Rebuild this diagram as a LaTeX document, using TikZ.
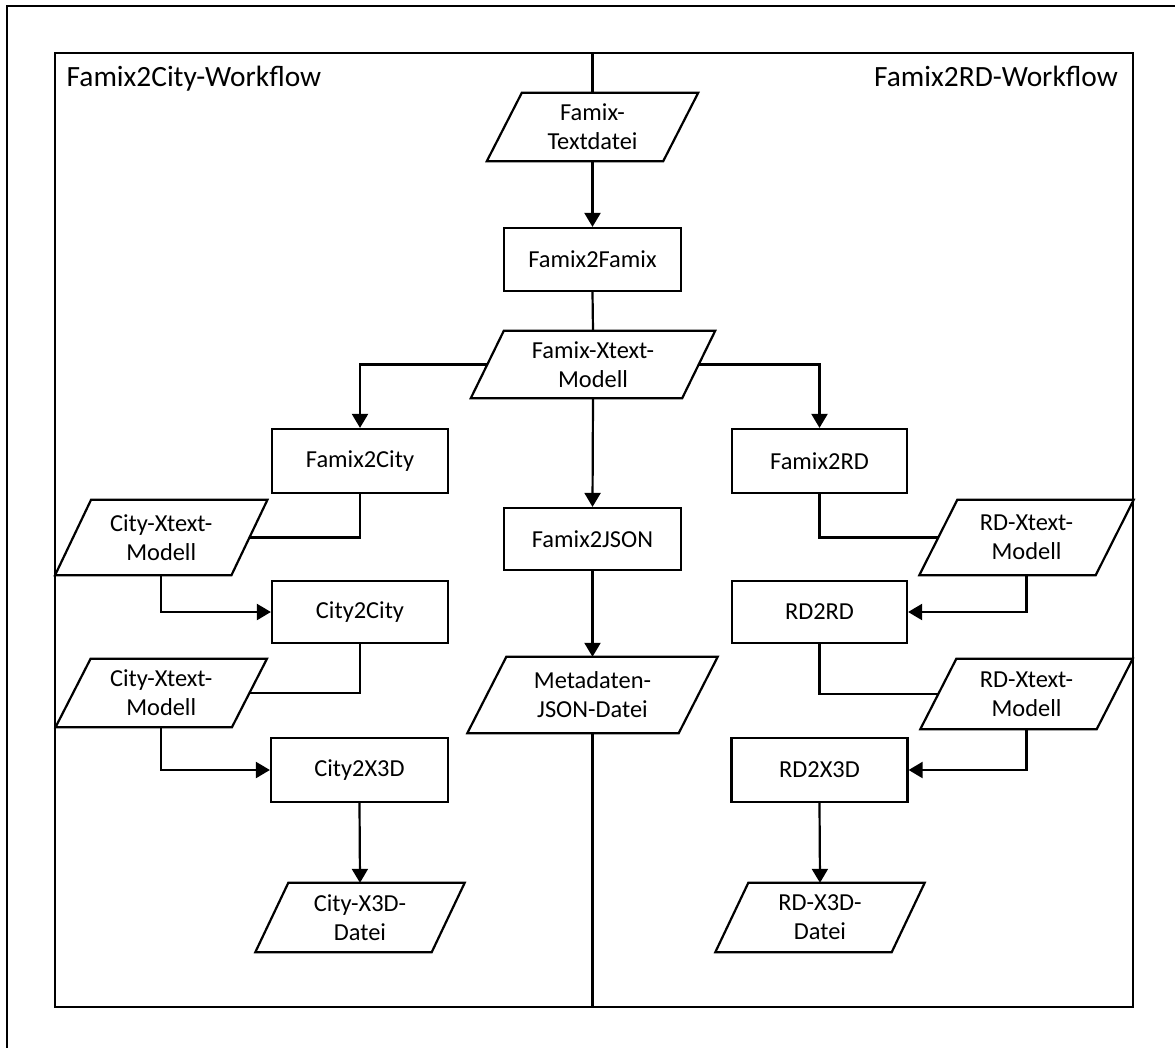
\documentclass[tikz,border=0pt]{standalone}
\usepackage{fontspec}
\setmainfont{Carlito}
\usetikzlibrary{arrows.meta}
\tikzset{
  ln/.style={line width=2.2bp, black},
  arr/.style={ln, -{Triangle[length=14bp,width=16bp]}},
  procbox/.style={draw, ln, rectangle, inner sep=0pt, minimum width=177bp, minimum height=63bp,
    font=\fontsize{24.5}{29}\selectfont, align=center},
  databox/.style={rectangle, inner sep=0pt, minimum width=176bp, minimum height=68bp,
    font=\fontsize{24.5}{29}\selectfont, align=center},
  title/.style={inner sep=0pt, font=\fontsize{29.5}{34}\selectfont},
}
\newcommand{\paral}[2]{%
  \draw[ln, line join=miter] ([xshift=-#2]#1.south west) -- ([xshift=#2]#1.north west)
    -- ([xshift=#2]#1.north east) -- ([xshift=-#2]#1.south east) -- cycle;}
\begin{document}
\begin{tikzpicture}[x=1bp,y=-1bp]
\useasboundingbox (0,0) rectangle (1175,1048);
% frames
\draw[ln, line width=1.8bp] (7,1048) -- (7,6) -- (1175,6);
\draw[ln] (55,53) rectangle (1133,1007);
\node[title, anchor=base west] (tl) at (66.5,86) {Famix2City-Workflow};
\node[title, anchor=base east] (tr) at (1118,86) {Famix2RD-Workflow};
\coordinate (ctop) at (592.5,53);
\coordinate (cbot) at (592.5,1007);
% centre column
\node[databox, minimum width=176bp, minimum height=68bp] (ftd) at (592.5,127) {Famix-\\Textdatei};
\node[procbox] (f2f) at (592.5,259.5) {Famix2Famix};
\node[databox, minimum width=211bp, minimum height=67bp] (fxm) at (593,364.5) {Famix-Xtext-\\Modell};
\node[procbox, minimum height=62bp] (f2j) at (592.5,539) {Famix2JSON};
\node[databox, minimum width=211bp, minimum height=76bp] (meta) at (592.5,695) {Metadaten-\\JSON-Datei};
% left column
\node[procbox, minimum width=176bp, minimum height=64bp] (f2c) at (360,461) {Famix2City};
\node[databox, minimum width=176bp, minimum height=75bp] (cx1) at (161.25,537.5) {City-Xtext-\\Modell};
\node[procbox, minimum width=176bp, minimum height=62bp] (c2c) at (360,612) {City2City};
\node[databox, minimum width=176bp, minimum height=68bp] (cx2) at (161.25,693) {City-Xtext-\\Modell};
\node[procbox, minimum width=177bp, minimum height=64bp] (c2x) at (359.5,770) {City2X3D};
\node[databox, minimum width=176bp, minimum height=69bp] (cx3) at (360,917.5) {City-X3D-\\Datei};
% right column
\node[procbox, minimum width=175bp, minimum height=64bp] (f2r) at (819.5,461) {Famix2RD};
\node[databox, minimum width=176bp, minimum height=75bp] (rx1) at (1026.5,537.5) {RD-Xtext-\\Modell};
\node[procbox, minimum width=175bp, minimum height=62bp] (r2r) at (819.5,612) {RD2RD};
\node[databox, minimum width=176bp, minimum height=70bp] (rx2) at (1026.5,694) {RD-Xtext-\\Modell};
\node[procbox, minimum width=176bp, minimum height=64bp] (r2x) at (819.5,770) {RD2X3D};
\node[databox, minimum width=176bp, minimum height=69bp] (rx3) at (820,917.5) {RD-X3D-\\Datei};
% parallelogram outlines
\paral{ftd}{17.5bp}
\paral{fxm}{16.5bp}
\paral{meta}{19.5bp}
\paral{cx1}{18bp}
\paral{cx2}{17.5bp}
\paral{cx3}{16.5bp}
\paral{rx1}{19bp}
\paral{rx2}{18bp}
\paral{rx3}{16.5bp}
% connectors centre
\draw[ln] (ctop) -- (ftd.north);
\draw[arr] (ftd.south) -- (f2f.north);
\draw[ln] (f2f.south) -- (fxm.north);
\draw[arr] (fxm.south) -- (f2j.north);
\draw[arr] (f2j.south) -- (meta.north);
\draw[ln] (meta.south) -- (cbot);
\draw[arr] (fxm.west) -| (f2c.north);
\draw[arr] (fxm.east) -| (f2r.north);
% left
\draw[ln] (f2c.south) |- (cx1.east);
\draw[arr] (cx1.south) |- (c2c.west);
\draw[ln] (c2c.south) |- (cx2.east);
\draw[arr] (cx2.south) |- (c2x.west);
\draw[arr] (c2x.south) -- (cx3.north);
% right
\draw[ln] (f2r.south) |- (rx1.west);
\draw[arr] (rx1.south) |- (r2r.east);
\draw[ln] (r2r.south) |- (rx2.west);
\draw[arr] (rx2.south) |- (r2x.east);
\draw[arr] (r2x.south) -- (rx3.north);
\end{tikzpicture}
\end{document}
